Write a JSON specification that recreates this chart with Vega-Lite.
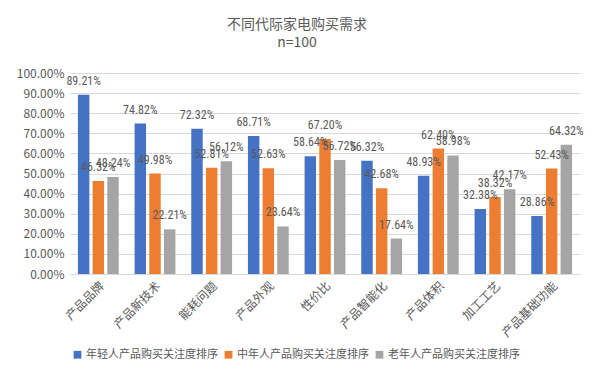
{
  "$schema": "https://vega.github.io/schema/vega-lite/v6.json",
  "width": 510,
  "height": 201,
  "autosize": "none",
  "padding": {"left": 70, "top": 73, "right": 14, "bottom": 108},
  "background": "white",
  "title": {
    "text": ["不同代际家电购买需求", "n=100"],
    "fontSize": 14,
    "font": "Noto Sans CJK SC",
    "fontWeight": "normal",
    "color": "#595959",
    "anchor": "middle",
    "dx": -28,
    "offset": 17,
    "lineHeight": 18
  },
  "config": {
    "view": {"stroke": null},
    "font": "Noto Sans CJK SC",
    "text": {"font": "Noto Sans CJK SC"}
  },
  "data": {
    "values": [
      {"cat": "产品品牌", "group": "年轻人产品购买关注度排序", "v": 0.8921},
      {"cat": "产品品牌", "group": "中年人产品购买关注度排序", "v": 0.4632},
      {"cat": "产品品牌", "group": "老年人产品购买关注度排序", "v": 0.4824},
      {"cat": "产品新技术", "group": "年轻人产品购买关注度排序", "v": 0.7482},
      {"cat": "产品新技术", "group": "中年人产品购买关注度排序", "v": 0.4998},
      {"cat": "产品新技术", "group": "老年人产品购买关注度排序", "v": 0.2221},
      {"cat": "能耗问题", "group": "年轻人产品购买关注度排序", "v": 0.7232},
      {"cat": "能耗问题", "group": "中年人产品购买关注度排序", "v": 0.5281},
      {"cat": "能耗问题", "group": "老年人产品购买关注度排序", "v": 0.5612},
      {"cat": "产品外观", "group": "年轻人产品购买关注度排序", "v": 0.6871},
      {"cat": "产品外观", "group": "中年人产品购买关注度排序", "v": 0.5263},
      {"cat": "产品外观", "group": "老年人产品购买关注度排序", "v": 0.2364},
      {"cat": "性价比", "group": "年轻人产品购买关注度排序", "v": 0.5864},
      {"cat": "性价比", "group": "中年人产品购买关注度排序", "v": 0.672},
      {"cat": "性价比", "group": "老年人产品购买关注度排序", "v": 0.5672},
      {"cat": "产品智能化", "group": "年轻人产品购买关注度排序", "v": 0.5632},
      {"cat": "产品智能化", "group": "中年人产品购买关注度排序", "v": 0.4268},
      {"cat": "产品智能化", "group": "老年人产品购买关注度排序", "v": 0.1764},
      {"cat": "产品体积", "group": "年轻人产品购买关注度排序", "v": 0.4893},
      {"cat": "产品体积", "group": "中年人产品购买关注度排序", "v": 0.624},
      {"cat": "产品体积", "group": "老年人产品购买关注度排序", "v": 0.5898},
      {"cat": "加工工艺", "group": "年轻人产品购买关注度排序", "v": 0.3238},
      {"cat": "加工工艺", "group": "中年人产品购买关注度排序", "v": 0.3832},
      {"cat": "加工工艺", "group": "老年人产品购买关注度排序", "v": 0.4217},
      {"cat": "产品基础功能", "group": "年轻人产品购买关注度排序", "v": 0.2886},
      {"cat": "产品基础功能", "group": "中年人产品购买关注度排序", "v": 0.5243},
      {"cat": "产品基础功能", "group": "老年人产品购买关注度排序", "v": 0.6432}
    ]
  },
  "encoding": {
    "x": {
      "field": "cat",
      "type": "nominal",
      "sort": null,
      "scale": {"paddingInner": 0.28, "paddingOuter": 0.14},
      "axis": {
        "title": null,
        "labelAngle": -45,
        "labelFontSize": 12,
        "labelColor": "#595959",
        "ticks": false,
        "domainColor": "#d9d9d9",
        "labelPadding": 6
      }
    },
    "xOffset": {
      "field": "group",
      "type": "nominal",
      "sort": ["年轻人产品购买关注度排序", "中年人产品购买关注度排序", "老年人产品购买关注度排序"],
      "scale": {"paddingInner": 0.22}
    },
    "y": {
      "field": "v",
      "type": "quantitative",
      "scale": {"domain": [0, 1]},
      "axis": {
        "title": null,
        "format": ".2%",
        "values": [0, 0.1, 0.2, 0.3, 0.4, 0.5, 0.6, 0.7, 0.8, 0.9, 1],
        "labelFontSize": 12,
        "labelColor": "#595959",
        "ticks": false,
        "domain": false,
        "gridColor": "#d9d9d9",
        "labelPadding": 6
      }
    }
  },
  "layer": [
    {
      "mark": {"type": "bar"},
      "encoding": {
        "color": {
          "field": "group",
          "type": "nominal",
          "sort": ["年轻人产品购买关注度排序", "中年人产品购买关注度排序", "老年人产品购买关注度排序"],
          "scale": {"range": ["#4472C4", "#ED7D31", "#A5A5A5"]},
          "legend": {
            "title": null,
            "orient": "none",
            "direction": "horizontal",
            "legendX": 2,
            "legendY": 276,
            "symbolType": "square",
            "symbolSize": 60,
            "symbolStrokeWidth": 0,
            "labelFontSize": 11,
            "labelColor": "#595959",
            "columnPadding": 5,
            "symbolOffset": 0,
            "labelOffset": 3
          }
        }
      }
    },
    {
      "mark": {"type": "text", "baseline": "bottom", "dy": -7, "fontSize": 12, "font": "Liberation Sans Narrow, Roboto Condensed, Liberation Sans", "color": "#595959"},
      "encoding": {
        "text": {"field": "v", "type": "quantitative", "format": ".2%"}
      }
    }
  ]
}
